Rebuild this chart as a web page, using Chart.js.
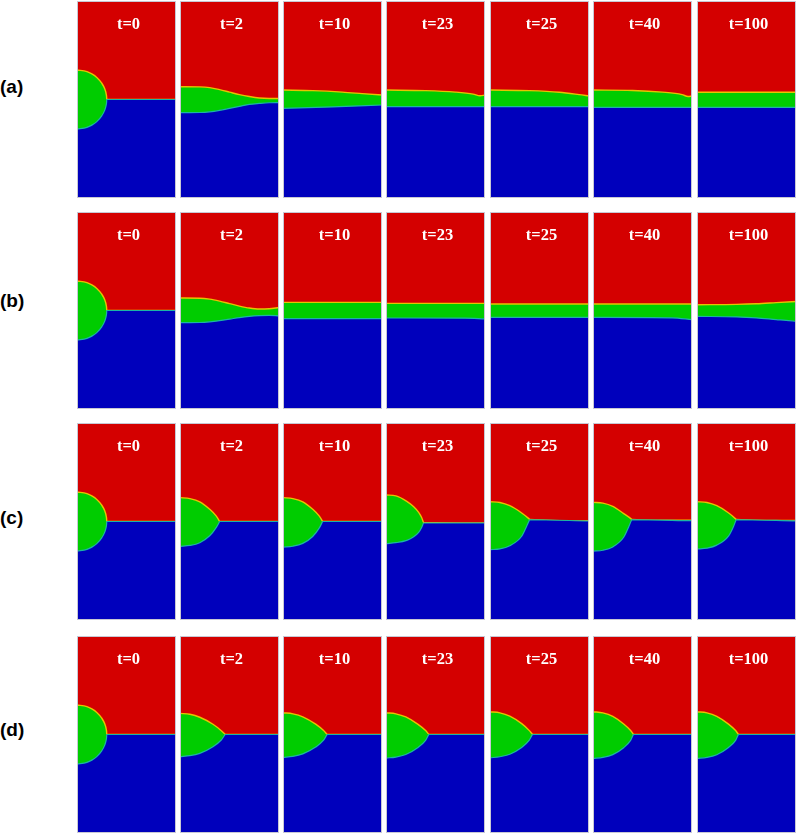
<!DOCTYPE html>
<html>
<head>
<meta charset="utf-8">
<script src="https://cdn.jsdelivr.net/npm/chart.js@4.4.1/dist/chart.umd.min.js"></script>
<style>
  body { margin: 0; background: #fff; }
  #figure { position: relative; width: 806px; height: 836px; }
  #figure canvas { position: absolute; }
  .row-label {
    position: absolute;
    left: 0;
    font: bold 19px "Liberation Sans", Arial, sans-serif;
    color: #000;
    transform: translateY(-50%);
  }
</style>
</head>
<body>
<div id="figure"></div>
<script>
// ---- data (domain: x 0..1 across a panel, y 0..2 from the bottom) ----
const timeLabels = ["t=0", "t=2", "t=10", "t=23", "t=25", "t=40", "t=100"];
const rowLabels = ["(a)", "(b)", "(c)", "(d)"];

// initial droplet, same in every row
const dropTop0 = [[0, 1.3], [0.1, 1.283], [0.15, 1.26], [0.2, 1.224], [0.25, 1.166], [0.28, 1.108], [0.295, 1.055], [0.2995, 1.017], [0.3, 1.0], [1, 1.0]];
const dropBottom0 = [[0, 0.7], [0.1, 0.717], [0.15, 0.74], [0.2, 0.776], [0.25, 0.834], [0.28, 0.892], [0.295, 0.945], [0.2995, 0.983], [0.3, 1.0], [1, 1.0]];

// upper edge of the green phase (green / red)
const rowATop = [
  dropTop0,
  [[0, 1.13], [0.2, 1.128], [0.3, 1.12], [0.4, 1.1], [0.5, 1.075], [0.6, 1.05], [0.7, 1.03], [0.8, 1.015], [0.9, 1.01], [1, 1.01]],
  [[0, 1.096], [0.3, 1.09], [0.6, 1.075], [0.8, 1.06], [1, 1.045]],
  [[0, 1.096], [0.4, 1.09], [0.7, 1.075], [0.88, 1.055], [0.95, 1.038], [1, 1.045]],
  [[0, 1.096], [0.4, 1.09], [0.7, 1.074], [0.9, 1.05], [1, 1.036]],
  [[0, 1.096], [0.4, 1.092], [0.7, 1.075], [0.9, 1.05], [0.96, 1.03], [1, 1.035]],
  [[0, 1.073], [1, 1.073]],
];
// upper edge of the blue phase (blue / green or blue / red)
const rowABottom = [
  dropBottom0,
  [[0, 0.866], [0.2, 0.868], [0.3, 0.875], [0.4, 0.89], [0.5, 0.91], [0.6, 0.93], [0.7, 0.95], [0.8, 0.96], [0.9, 0.967], [1, 0.968]],
  [[0, 0.91], [0.5, 0.925], [1, 0.944]],
  [[0, 0.927], [1, 0.927]],
  [[0, 0.927], [1, 0.927]],
  [[0, 0.921], [1, 0.921]],
  [[0, 0.921], [1, 0.921]],
];

const rowBTop = [
  dropTop0,
  [[0, 1.127], [0.2, 1.125], [0.3, 1.115], [0.4, 1.095], [0.5, 1.07], [0.6, 1.045], [0.7, 1.025], [0.8, 1.015], [0.9, 1.018], [1, 1.03]],
  [[0, 1.082], [1, 1.082]],
  [[0, 1.072], [1, 1.072]],
  [[0, 1.066], [1, 1.066]],
  [[0, 1.066], [1, 1.066]],
  [[0, 1.059], [0.4, 1.062], [0.6, 1.068], [0.8, 1.08], [1, 1.092]],
];
const rowBBottom = [
  dropBottom0,
  [[0, 0.876], [0.2, 0.878], [0.3, 0.885], [0.4, 0.897], [0.5, 0.912], [0.6, 0.928], [0.7, 0.94], [0.8, 0.947], [0.9, 0.95], [1, 0.945]],
  [[0, 0.917], [1, 0.917]],
  [[0, 0.924], [0.8, 0.922], [1, 0.915]],
  [[0, 0.93], [1, 0.93]],
  [[0, 0.93], [0.8, 0.926], [1, 0.907]],
  [[0, 0.94], [0.4, 0.935], [0.6, 0.925], [0.8, 0.908], [0.9, 0.9], [1, 0.89]],
];

const rowCTop = [
  dropTop0,
  [[0, 1.242], [0.1, 1.232], [0.2, 1.2], [0.3, 1.125], [0.367, 1.055], [0.398, 1.004], [0.4, 1.0], [1, 1.0]],
  [[0, 1.242], [0.1, 1.232], [0.2, 1.2], [0.3, 1.125], [0.367, 1.055], [0.398, 1.004], [0.4, 1.0], [1, 1.0]],
  [[0, 1.269], [0.1, 1.26], [0.21, 1.205], [0.28, 1.15], [0.33, 1.093], [0.36, 1.04], [0.378, 0.993], [0.38, 0.99], [1, 0.985]],
  [[0, 1.201], [0.1, 1.193], [0.2, 1.16], [0.32, 1.086], [0.398, 1.024], [0.4, 1.022], [1, 1.008]],
  [[0, 1.194], [0.1, 1.186], [0.2, 1.153], [0.31, 1.08], [0.388, 1.024], [0.39, 1.022], [1, 1.012]],
  [[0, 1.201], [0.1, 1.193], [0.2, 1.16], [0.32, 1.086], [0.393, 1.024], [0.395, 1.022], [1, 1.01]],
];
const rowCBottom = [
  dropBottom0,
  [[0, 0.748], [0.1, 0.757], [0.2, 0.785], [0.3, 0.855], [0.367, 0.94], [0.398, 0.996], [0.4, 1.0], [1, 1.0]],
  [[0, 0.74], [0.1, 0.749], [0.2, 0.778], [0.3, 0.848], [0.367, 0.935], [0.398, 0.996], [0.4, 1.0], [1, 1.0]],
  [[0, 0.775], [0.1, 0.785], [0.21, 0.809], [0.28, 0.845], [0.33, 0.89], [0.36, 0.94], [0.378, 0.982], [0.38, 0.985], [1, 0.985]],
  [[0, 0.714], [0.1, 0.722], [0.2, 0.754], [0.32, 0.85], [0.37, 0.951], [0.398, 1.014], [0.4, 1.018], [1, 1.005]],
  [[0, 0.7], [0.1, 0.708], [0.2, 0.742], [0.31, 0.84], [0.36, 0.945], [0.388, 1.013], [0.39, 1.018], [1, 1.008]],
  [[0, 0.721], [0.1, 0.729], [0.2, 0.76], [0.32, 0.855], [0.37, 0.952], [0.393, 1.013], [0.395, 1.018], [1, 1.006]],
];

const rowDTop = [
  dropTop0,
  [[0, 1.215], [0.1, 1.205], [0.2, 1.175], [0.333, 1.104], [0.417, 1.039], [0.455, 1.002], [0.457, 1.0], [1, 1.0]],
  [[0, 1.221], [0.1, 1.21], [0.2, 1.18], [0.33, 1.105], [0.41, 1.04], [0.445, 1.002], [0.447, 1.0], [1, 1.0]],
  [[0, 1.221], [0.1, 1.21], [0.2, 1.178], [0.32, 1.105], [0.4, 1.04], [0.432, 1.002], [0.434, 1.0], [1, 1.0]],
  [[0, 1.231], [0.1, 1.22], [0.2, 1.186], [0.32, 1.11], [0.395, 1.042], [0.429, 1.002], [0.431, 1.0], [1, 1.0]],
  [[0, 1.231], [0.1, 1.219], [0.2, 1.183], [0.31, 1.106], [0.38, 1.04], [0.408, 1.002], [0.41, 1.0], [1, 1.0]],
  [[0, 1.231], [0.1, 1.22], [0.2, 1.185], [0.315, 1.108], [0.39, 1.04], [0.418, 1.002], [0.42, 1.0], [1, 1.0]],
];
const rowDBottom = [
  dropBottom0,
  [[0, 0.775], [0.1, 0.785], [0.2, 0.809], [0.333, 0.876], [0.417, 0.944], [0.455, 0.998], [0.457, 1.0], [1, 1.0]],
  [[0, 0.768], [0.1, 0.778], [0.2, 0.803], [0.33, 0.872], [0.41, 0.942], [0.445, 0.998], [0.447, 1.0], [1, 1.0]],
  [[0, 0.761], [0.1, 0.771], [0.2, 0.797], [0.32, 0.866], [0.4, 0.94], [0.432, 0.998], [0.434, 1.0], [1, 1.0]],
  [[0, 0.764], [0.1, 0.774], [0.2, 0.8], [0.32, 0.868], [0.395, 0.94], [0.429, 0.998], [0.431, 1.0], [1, 1.0]],
  [[0, 0.758], [0.1, 0.768], [0.2, 0.796], [0.31, 0.866], [0.38, 0.94], [0.408, 0.998], [0.41, 1.0], [1, 1.0]],
  [[0, 0.758], [0.1, 0.768], [0.2, 0.795], [0.315, 0.866], [0.39, 0.94], [0.418, 0.998], [0.42, 1.0], [1, 1.0]],
];

const rowsTop = [rowATop, rowBTop, rowCTop, rowDTop];
const rowsBottom = [rowABottom, rowBBottom, rowCBottom, rowDBottom];

// ---- layout / style ----
const COL_LEFT = [77, 180, 283, 386, 490, 593, 697];
const ROW_TOP = [1, 212, 423, 636];
const ROW_LABEL_Y = [87, 301, 518, 730];
const PANEL_W = 99;
const PANEL_H = 197;

const COLORS = {
  red: "#d40000",
  green: "#00cc00",
  blue: "#0000bc",
  greenEdge: "#e8c200",
  blueEdge: "#1cb4a4",
  frame: "#c8c8d4",
};

const panelFrame = {
  id: "panelFrame",
  beforeDraw(chart) {
    const { ctx, chartArea: a } = chart;
    ctx.save();
    ctx.fillStyle = COLORS.red;
    ctx.fillRect(a.left, a.top, a.right - a.left, a.bottom - a.top);
    ctx.restore();
  },
  afterDraw(chart, args, opts) {
    const { ctx, width, height } = chart;
    ctx.save();
    ctx.strokeStyle = COLORS.frame;
    ctx.lineWidth = 1;
    ctx.strokeRect(0.5, 0.5, width - 1, height - 1);
    // time label
    ctx.fillStyle = "#fff";
    ctx.font = 'bold 16.5px "Liberation Serif", "Times New Roman", serif';
    ctx.textAlign = "center";
    ctx.textBaseline = "middle";
    ctx.fillText(opts.text, width / 2 + 2, 24);
    ctx.restore();
  },
};

function toPoints(list) {
  return list.map(([x, y]) => ({ x: x, y: y }));
}

function makePanel(row, col) {
  const canvas = document.createElement("canvas");
  canvas.width = PANEL_W;
  canvas.height = PANEL_H;
  canvas.style.left = COL_LEFT[col] + "px";
  canvas.style.top = ROW_TOP[row] + "px";
  document.getElementById("figure").appendChild(canvas);

  return new Chart(canvas, {
    type: "line",
    data: {
      datasets: [
        {
          label: "blue phase",
          data: toPoints(rowsBottom[row][col]),
          fill: "start",
          backgroundColor: COLORS.blue,
          borderColor: COLORS.blueEdge,
          borderWidth: 1.2,
        },
        {
          label: "green phase",
          data: toPoints(rowsTop[row][col]),
          fill: "start",
          backgroundColor: COLORS.green,
          borderColor: COLORS.greenEdge,
          borderWidth: 1.4,
        },
      ],
    },
    options: {
      responsive: false,
      animation: false,
      events: [],
      layout: { padding: 0 },
      elements: {
        point: { radius: 0 },
        line: { cubicInterpolationMode: "monotone" },
      },
      scales: {
        x: { type: "linear", min: 0, max: 1, display: false },
        y: { type: "linear", min: 0, max: 2, display: false },
      },
      plugins: {
        legend: { display: false },
        tooltip: { enabled: false },
        panelFrame: { text: timeLabels[col] },
      },
    },
    plugins: [panelFrame],
  });
}

rowLabels.forEach((label, r) => {
  const div = document.createElement("div");
  div.className = "row-label";
  div.style.top = ROW_LABEL_Y[r] + "px";
  div.textContent = label;
  document.getElementById("figure").appendChild(div);

  timeLabels.forEach((t, c) => makePanel(r, c));
});
</script>
</body>
</html>
